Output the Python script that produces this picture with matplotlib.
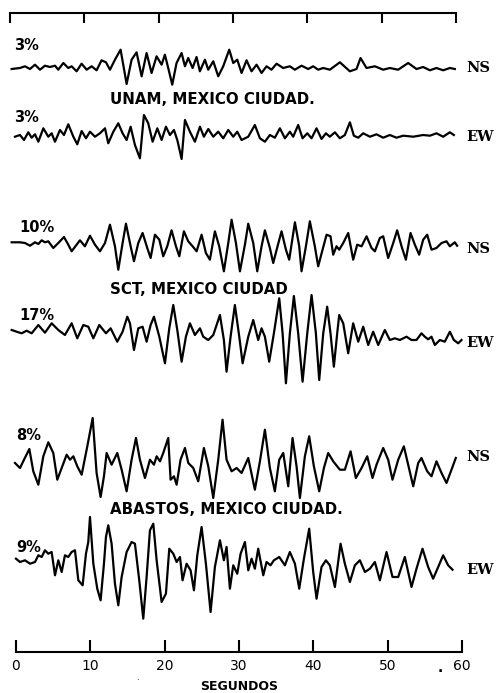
import numpy as np
import matplotlib
matplotlib.use("Agg")
import matplotlib.pyplot as plt

# === DONNEES : temps en s, amplitude en unites de trace ===
unam_ns_t = [-0.58, 0.54, 1.21, 1.88, 2.56, 3.23, 3.90, 4.57, 5.25, 5.69, 6.37, 7.04, 7.49, 8.16,
             8.83, 9.51, 10.18, 10.85, 11.52, 12.11, 12.65, 13.32, 14.08, 14.89, 15.56, 16.23,
             16.91, 17.58, 18.25, 18.92, 19.60, 20.04, 20.49, 21.03, 21.61, 22.29, 22.74, 23.18,
             23.77, 24.30, 24.75, 25.43, 25.87, 26.55, 27.22, 27.89, 28.70, 29.24, 29.78, 30.36,
             31.03, 31.70, 32.38, 33.05, 33.72, 34.39, 35.07, 35.96, 36.86, 37.53, 38.43, 39.33,
             40.00, 40.67, 41.35, 42.24, 43.59, 44.93, 45.83, 46.37, 47.17, 48.30, 49.42, 50.31,
             51.43, 52.78, 53.90, 54.80, 55.70, 56.59, 57.49, 58.39, 59.06]
unam_ns_a = [-1, 0, 1.7, -1, 3.3, -1.7, 2.3, 1, 2.3, -1.7, 5, 0, 1.7, -3.3,
             4.3, -1.7, 1.7, -2.3, 7.7, 5.7, -1.7, 8.3, 18.3, -16, 8.3, 15.7,
             -8.3, 15, -5, 11.7, 3.3, 13.3, 0, -16.7, 5, 15, 1.7, 10,
             0, 11, -3.3, 8.3, -1.7, 6.7, -8.3, 1.7, 18.3, 5, 8.3, -5,
             7.7, -3.3, 3.3, -5, 1.7, -1.7, 4.3, 0, 1.7, -1.7, 2.3, -1,
             1.7, -1.7, 0, -1.7, 5.7, -3.3, -1, 10, 0, 1.7, -1.7, 0,
             -1.7, 5, -1, 1, -2.3, 0, -2.3, 0, -1]

unam_ew_t = [-0.13, 0.54, 1.08, 1.66, 2.11, 2.56, 3.01, 3.68, 4.35, 4.80, 5.25, 5.92, 6.46, 7.04,
             7.72, 8.25, 8.84, 9.42, 9.96, 10.63, 11.30, 11.98, 12.42, 13.10, 13.77, 14.35, 14.89,
             15.43, 16.01, 16.68, 17.22, 17.80, 18.39, 19.02, 19.60, 20.18, 20.72, 21.26, 21.71,
             22.29, 22.74, 23.41, 24.08, 24.76, 25.29, 25.88, 26.55, 27.22, 27.89, 28.57, 29.24,
             29.78, 30.36, 31.26, 32.15, 32.83, 33.50, 34.17, 34.84, 35.52, 36.19, 36.86, 37.31,
             37.98, 38.57, 39.20, 39.78, 40.45, 41.12, 41.71, 42.24, 42.92, 43.59, 44.26, 44.94,
             45.47, 46.06, 46.73, 47.63, 48.52, 49.42, 50.31, 51.21, 52.11, 53.46, 54.80, 55.70,
             56.59, 57.49, 58.39, 58.93]
unam_ew_a = [-1.7, 0, -5, 2.7, -2.7, 0.7, -6.7, 6.7, -1.7, 1.7, -6.7, 5, 0, 10.7,
             -1.7, -9.3, 4, -3.3, 3.3, -1.7, 1.7, 6.7, -8.3, 3.3, 11.7, 1.7, -5,
             8.3, -10, -23.3, 20, 11.7, -6.7, 6.7, -5, 8.3, 0, 5, -5,
             -24, 15, 3.3, -6.7, 8.3, -1.7, 6, -1.7, 3.3, -3.3, 5, -1.7,
             3.3, -5, -1.7, 10, -3.3, -6.7, 0, -2.7, 6.7, -3.3, 3.3, -1.7,
             10, -3.3, 1.7, -3.3, 6.7, -4, 1.7, -1.7, 2.7, -3.3, 0, 12.7,
             -0.7, -2.7, 1.7, -1.7, 0.7, -2.7, 0, -2.7, -0.7, -1.7, 0, -0.7,
             1.7, -1.7, 2.7, 0]

sct_ns_t = [-0.58, 0.54, 1.21, 1.89, 2.56, 3.01, 3.46, 3.90, 4.35, 5.02, 5.70, 6.46, 7.04, 7.49,
            8.16, 8.61, 9.28, 9.96, 10.63, 11.30, 11.98, 12.65, 13.32, 13.77, 14.35, 14.80, 15.43,
            15.88, 16.46, 17.04, 17.67, 18.12, 18.70, 19.29, 19.82, 20.36, 20.94, 21.53, 21.98,
            22.60, 23.18, 23.77, 24.31, 24.98, 25.56, 26.10, 26.77, 27.35, 27.98, 28.57, 29.02,
            29.60, 30.14, 30.81, 31.26, 31.93, 32.47, 33.05, 33.50, 34.17, 34.62, 35.20, 35.74,
            36.33, 36.77, 37.54, 38.12, 38.43, 39.02, 39.55, 40.22, 40.67, 41.26, 41.80, 42.33,
            42.69, 43.14, 43.50, 44.04, 44.71, 45.38, 45.92, 46.51, 47.18, 47.85, 48.30, 48.97,
            49.42, 50.09, 50.77, 51.30, 51.89, 52.47, 53.10, 53.68, 54.26, 54.80, 55.34, 55.92,
            56.59, 57.27, 57.94, 58.39, 59.06, 59.37]
sct_ns_a = [0.7, 0.7, 0, -2.7, 0.7, -1, 2.7, 0.7, 1.7, -5, 0, 6, -1.7, -8.3,
            -1.7, 2.7, -3.3, 7.3, -1.7, -8.3, 0, 18.3, -3.3, -26.7, 0, 19.3, -3.3,
            -18.3, 0, 10, -5, -15, 8.3, 3.3, -13.3, -3.3, 12.7, -3.3, -13.3,
            11.7, 1.7, -3.3, -8.3, 8.3, -10, -16.7, 11.7, -3.3, -28.3, 0, 23.3,
            0, -28.3, -1.7, 19.3, 0, -28.3, -3.3, 12.7, -5, -20, -3.3, 11.7,
            -6.7, -16.7, 20.7, -3.3, -28.3, -3.3, 21.7, -3.3, -23.3, -6.7, 8.3, 6.7,
            -11.7, -3.3, -6.7, 0, 10, -16.7, -1.7, -3.3, 6.7, -5, -8.3, 5,
            6.7, -15, 0, 12.7, -3.3, -16.7, 10, -1.7, -11.7, 3.3, 8.3, -6.7,
            -5, 0, 1.7, -3.3, 0.7, -2.7]

sct_ew_t = [-0.58, 0.09, 0.76, 1.44, 2.11, 3.01, 3.90, 4.80, 5.70, 6.59, 7.49, 8.25, 9.06, 9.73,
            10.41, 11.21, 12.11, 12.74, 13.63, 14.35, 14.98, 15.34, 15.88, 16.46, 17.04, 17.58,
            18.12, 18.57, 19.29, 20.05, 20.63, 21.17, 21.71, 22.29, 22.87, 23.41, 24.08, 24.76,
            25.20, 25.88, 26.55, 27.45, 27.98, 28.34, 28.88, 29.46, 30.05, 30.50, 31.26, 31.93,
            32.60, 33.05, 33.50, 34.08, 34.71, 35.43, 35.88, 36.33, 36.86, 37.40, 37.98, 38.57,
            39.20, 39.78, 40.36, 40.81, 41.35, 41.88, 42.33, 42.78, 43.23, 43.50, 44.04, 44.71,
            45.38, 46.06, 46.73, 47.40, 48.07, 48.75, 49.64, 50.31, 50.99, 51.66, 52.56, 53.23,
            53.90, 54.57, 55.02, 55.47, 55.92, 56.37, 57.04, 57.71, 58.39, 58.93, 59.51, 59.96]
sct_ew_a = [5, 3.3, 1.7, 4.3, 1.7, 10, 2.3, 11.7, 5, 0, 11.7, -3.3, 10, 8.3,
            -3.3, 10, 1.7, 6.7, -6.7, 3.3, 18.3, 11.7, -15, 6.7, 8.3, -6.7,
            10, 18.3, -1.7, -28.3, 6.7, 30, 5, -26.7, -1.7, 11.7, 0, 6.7,
            -1.7, -5, 0, 20, -5, -36.7, -1.7, 30, -1.7, -28.3, -1.7, 15,
            -5, 6.7, -1.7, -26.7, 1.7, 36.7, 1.7, -48.3, 1.7, 39, 1.7, -46.7,
            1.7, 40, 1.7, -45, 1.7, 28.3, 1.7, -31.7, 1.7, 20, 11.7, -18.3,
            11.7, -6.7, 8.3, -10, 3.3, -10, 5, -5, -3.3, -5, -1.7, -5,
            -5, 1.7, -1.7, -4.3, -1.7, -10, -5, -6.7, 3.3, -5, -8.3, -5]

abastos_ns_t = [-0.13, 0.54, 1.08, 1.80, 2.33, 3.01, 3.68, 4.35, 5.02, 5.56, 6.15, 6.82, 7.27, 7.72,
                8.25, 8.84, 9.60, 10.32, 10.85, 11.39, 11.84, 12.20, 12.87, 13.63, 14.22, 14.89,
                15.56, 16.15, 16.68, 17.36, 18.03, 18.57, 18.93, 19.38, 19.82, 20.49, 20.81, 21.26,
                21.62, 22.15, 22.74, 23.19, 23.86, 24.53, 25.29, 25.88, 26.55, 27.22, 27.80, 28.34,
                29.02, 29.69, 30.36, 31.26, 32.15, 32.83, 33.50, 34.17, 34.84, 35.43, 35.97, 36.64,
                37.22, 37.76, 38.21, 38.88, 39.46, 40.09, 40.81, 41.44, 42.02, 42.69, 43.59, 44.26,
                45.03, 45.74, 46.51, 47.27, 47.98, 48.52, 49.42, 50.09, 50.67, 51.44, 52.20, 52.78,
                53.46, 54.13, 54.57, 55.34, 55.92, 56.59, 57.27, 57.94, 58.61, 59.19]
abastos_ns_a = [0, -5, 3.3, 14, -8.3, -21.7, 6.7, 20.7, 10, -16.7, -5, 8.3, 3.3, 6.7,
                -3.3, -11.7, 16.7, 45, -10, -34, -13.3, 10, -1.7, 10, -6.7, -28.3,
                3.3, 25, 3.3, -15, 3.3, -1.7, 6.7, 1.7, 10, 25, -16.7, -13.3,
                -21.7, 3.3, 15, 0, -5, -18.3, 15, -3.3, -35, 3.3, 43.3, 3.3,
                -8.3, -5, -10, 5, -26.7, 1.7, 33.3, -5, -28.3, 3.3, 10, -23.3,
                25, -3.3, -35, 6.7, 26.7, -3.3, -28.3, -5, 10, 1.7, -6.7, -6.7,
                11.7, -15, -5, 6.7, -15, -1.7, 15, 3.3, -16.7, 3.3, 16.7, -1.7,
                -23.3, 0, 5, -8.3, -13.3, 1.7, -10, -20, -6.7, 5]

abastos_ew_t = [0.0, 0.54, 1.21, 1.89, 2.56, 3.01, 3.46, 3.90, 4.35, 4.80, 5.25, 5.70, 6.15, 6.59,
                7.04, 7.49, 7.94, 8.39, 8.97, 9.42, 9.73, 9.96, 10.41, 10.94, 11.39, 11.84, 12.11,
                12.42, 12.87, 13.32, 13.77, 14.22, 14.89, 15.56, 16.01, 16.59, 17.13, 17.58, 18.03,
                18.48, 18.93, 19.60, 20.18, 20.63, 21.17, 21.62, 22.07, 22.42, 22.96, 23.50, 23.95,
                24.40, 24.98, 25.56, 26.19, 26.77, 27.45, 27.98, 28.34, 28.79, 29.24, 29.78, 30.23,
                30.81, 31.26, 31.71, 32.15, 32.60, 33.28, 33.72, 34.26, 34.71, 35.43, 36.19, 36.86,
                37.54, 38.12, 38.75, 39.46, 40.00, 40.45, 41.12, 41.71, 42.24, 42.92, 43.68, 44.26,
                44.94, 45.61, 46.28, 46.96, 47.63, 48.30, 48.97, 49.87, 50.67, 51.44, 52.33, 53.23,
                53.90, 54.71, 55.47, 56.14, 56.82, 57.49, 58.16, 58.75]
abastos_ew_a = [3.3, 0, 1.7, -1.7, 0, 6.7, 5, 11.7, 8.3, 10, -13.3, 1.7, -10, 6.7,
                5, 10, 11.7, -18.3, -23.3, 8.3, 20, 45, -1.7, -26.7, -38.3, -1.7, 25,
                36.7, 18.3, -21.7, -43.3, -15, 10, 20, 18.3, -18.3, -56.7, -15, 31.7,
                38.3, 1.7, -40, -31.7, 13.3, 8.3, 0, 5, -18.3, -1.7, -8.3, -28.3,
                6.7, 35, -1.7, -50, -5, 21.7, 1.7, 15, -26.7, -3.3, -11.7, 8.3,
                20, -8.3, 3.3, -6.7, 13.3, -13.3, 0, -3.3, 1.7, 5, -3.3, 10,
                -1.7, -26.7, 3.3, 33.3, -10, -36.7, -5, 1.7, -3.3, -25, 18.3, -1.7,
                -20, -3.3, 1.7, -10, -6.7, 0, -18.3, 10, -15, -15, 5, -25,
                -6.7, 13.3, -5, -16.7, -5, 6.7, -3.3, -7.7]

traces = [
    (unam_ns_t, unam_ns_a, "3%", "NS"),
    (unam_ew_t, unam_ew_a, "3%", "EW"),
    (sct_ns_t, sct_ns_a, "10%", "NS"),
    (sct_ew_t, sct_ew_a, "17%", "EW"),
    (abastos_ns_t, abastos_ns_a, "8%", "NS"),
    (abastos_ew_t, abastos_ew_a, "9%", "EW"),
]
stations = ["UNAM, MEXICO CIUDAD.", "SCT, MEXICO CIUDAD", "ABASTOS, MEXICO CIUDAD."]
ticks = [0, 10, 20, 30, 40, 50, 60]
tick_labels = ["0", "10", "20", "30", "40", "50", "60"]

# === MISE EN PAGE (en pixels de l'image verticalement) ===
baselines = [68, 135, 243, 335, 463, 562]
pct_x = [-0.3, -0.3, 0.4, 0.4, 0.0, 0.0]
pct_y = [45, 118, 228, 316, 436, 548]
comp_y = [68, 137, 249, 343, 457, 570]
station_y = [100, 290, 510]

fig = plt.figure(figsize=(4.98, 6.93), dpi=100)
ax = fig.add_axes([0, 0, 1, 1])
ax.set_xlim(-2.15, 64.87)
ax.set_ylim(693, 0)
ax.axis("off")

sans = "DejaVu Sans"
serif = "DejaVu Serif"

for i, (t, a, pct, comp) in enumerate(traces):
    y = baselines[i] - np.array(a)
    ax.plot(t, y, color="black", lw=1.6, solid_joinstyle="round")
    ax.text(pct_x[i], pct_y[i], pct, fontsize=10.5, family=sans, weight="bold", va="center", ha="left")
    ax.text(60.6, comp_y[i], comp, fontsize=10.5, family=serif, weight="bold", va="center", ha="left")

for j, name in enumerate(stations):
    ax.text(12.6, station_y[j], name, fontsize=10.8, family=sans, weight="bold", va="center", ha="left")

# axe du haut (legerement decale sur le scan)
top_shift = -0.8
ax.plot([ticks[0] + top_shift, ticks[-1] + top_shift], [13, 13], color="black", lw=1.5)
ax.vlines(np.array(ticks) + top_shift, 13, 23, color="black", lw=1.5)

# axe du bas
ax.plot([ticks[0], ticks[-1]], [652, 652], color="black", lw=1.5)
ax.vlines(ticks, 640, 652, color="black", lw=1.5)
for tk, lab in zip(ticks, tick_labels):
    ax.text(tk, 666, lab, fontsize=10, family=sans, ha="center", va="center")
ax.text(30, 686, "SEGUNDOS", fontsize=9, family=sans, weight="bold", ha="center", va="center")
# points du scan
ax.text(57.1, 668, ".", fontsize=10, family=sans, weight="bold", ha="center", va="center")
ax.text(16.4, 678, ".", fontsize=6, family=sans, ha="center", va="center")

fig.savefig("out.png", dpi=100)
